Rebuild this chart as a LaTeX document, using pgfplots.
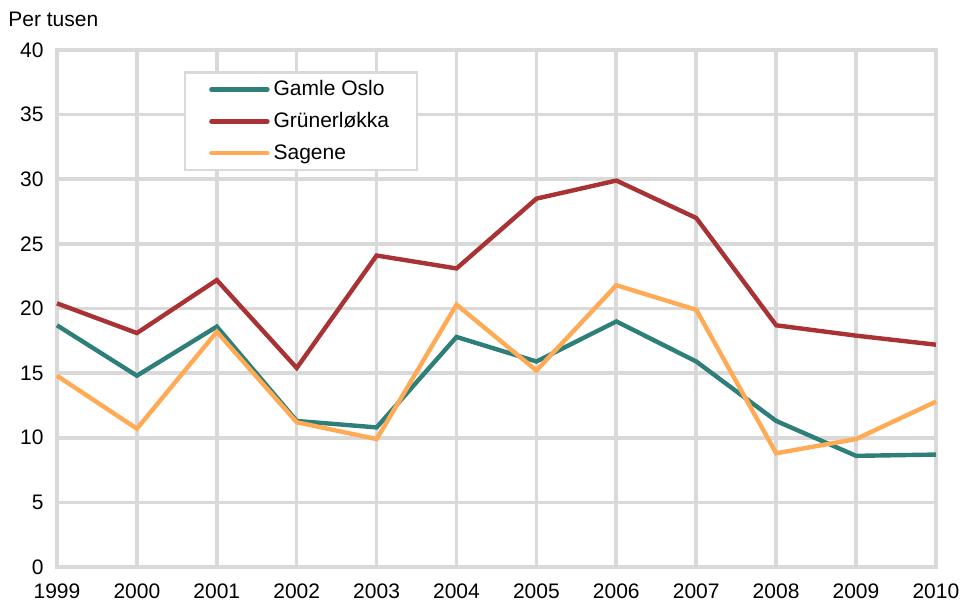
\documentclass[border=0pt]{standalone}
\usepackage{fontspec}
\setmainfont{Liberation Sans}
\usepackage{pgfplots}
\pgfplotsset{compat=1.18}
\definecolor{gamle}{HTML}{2E7F7A}
\definecolor{gruner}{HTML}{A83234}
\definecolor{sagene}{HTML}{FFAA55}
\definecolor{gridc}{HTML}{D9D9D9}
\begin{document}
\fontsize{10.5}{12}\selectfont
\begin{tikzpicture}
\path[use as bounding box] (-28.5pt,-17.5pt) rectangle (451.5pt,283.5pt);
\begin{axis}[
    at={(0,0)}, anchor=south west,
    scale only axis,
    width=439.5pt, height=258.5pt,
    xmin=1999, xmax=2010,
    ymin=0, ymax=40,
    xtick={1999,...,2010},
    ytick={0,5,...,40},
    x tick label style={/pgf/number format/1000 sep={}},
    /pgf/number format/assume math mode=true,
    tick label style={font=\fontsize{10.5}{12}\selectfont},
    major tick length=0pt,
    xmajorgrids, ymajorgrids,
    grid style={gridc, line width=1.8pt},
    axis line style={gridc, line width=1.8pt, line cap=round},
    yticklabel style={xshift=-3pt},
    xticklabel style={yshift=-4.5pt},
    legend style={at={(0.1445,0.959)}, anchor=north west,
        draw=gridc, line width=1.2pt,
        font=\fontsize{10.5}{12}\selectfont,
        inner xsep=12pt, inner ysep=2pt,
        row sep=2.8pt, cells={anchor=west}},
    legend image code/.code={\draw[#1, line width=2.2pt, line cap=round] (0pt,0pt) -- (28pt,0pt);},
    legend cell align=left,
    clip=false,
]
\addplot[gamle, line width=2.2pt] coordinates {
(1999,18.7)(2000,14.8)(2001,18.6)(2002,11.3)(2003,10.8)(2004,17.8)
(2005,15.9)(2006,19.0)(2007,15.9)(2008,11.3)(2009,8.6)(2010,8.7)};
\addplot[gruner, line width=2.2pt] coordinates {
(1999,20.4)(2000,18.1)(2001,22.2)(2002,15.4)(2003,24.1)(2004,23.1)
(2005,28.5)(2006,29.9)(2007,27.0)(2008,18.7)(2009,17.9)(2010,17.2)};
\addplot[sagene, line width=2.2pt] coordinates {
(1999,14.8)(2000,10.7)(2001,18.2)(2002,11.2)(2003,9.9)(2004,20.3)
(2005,15.2)(2006,21.8)(2007,19.9)(2008,8.8)(2009,9.9)(2010,12.8)};
\legend{Gamle Oslo, Grünerløkka, Sagene}
\end{axis}
\node[anchor=west, inner sep=0pt] at (-24.5pt,274pt) {Per tusen};
\end{tikzpicture}
\end{document}
